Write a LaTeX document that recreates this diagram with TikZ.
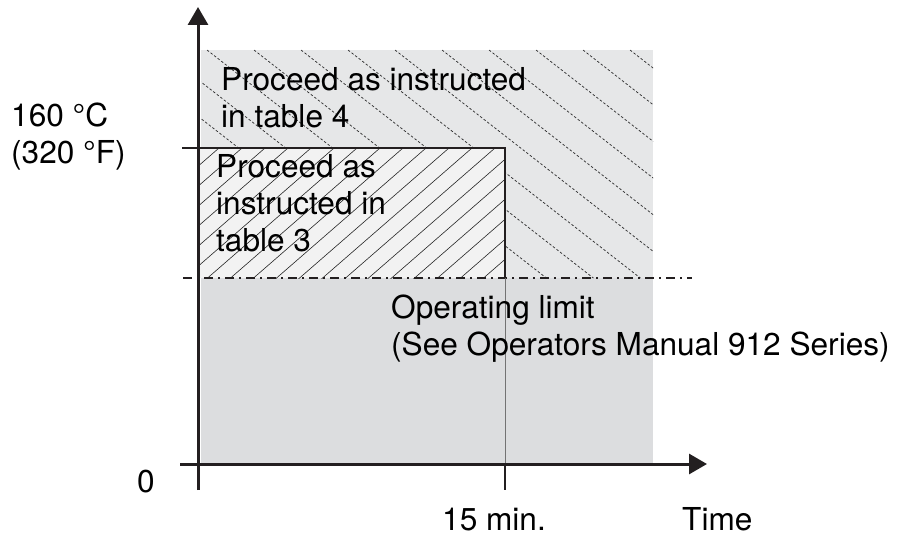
\documentclass[tikz,border=0pt]{standalone}
\usepackage{fontspec}
\setmainfont{TeX Gyre Heros}
\usetikzlibrary{arrows.meta}

\definecolor{axisblack}{HTML}{231F20}
\definecolor{zoneupper}{HTML}{E6E7E8}
\definecolor{zonelower}{HTML}{DCDDDF}
\definecolor{zoneinner}{HTML}{F2F2F2}

\tikzset{
  axis/.style={line width=3pt, draw=axisblack, -{Triangle[length=18pt,width=20pt]}},
  hatchdash/.style={line width=0.75pt, draw=black!80, dash pattern=on 2.5pt off 2pt},
  hatchsolid/.style={line width=0.6pt, draw=black!85},
  limitline/.style={line width=1.5pt, draw=axisblack, dash pattern=on 9pt off 5pt on 2pt off 5pt},
  zonetext/.style={inner sep=0pt, align=left, anchor=north west, font=\fontsize{31.6}{37}\selectfont},
  ticktext/.style={inner sep=0pt, anchor=base west, font=\fontsize{31.6}{37}\selectfont}
}

\begin{document}
\begin{tikzpicture}[x=1pt, y=-1pt]
		\useasboundingbox (0,0) rectangle (904,535);
		
		% Key points
		\coordinate (origin) at (198,464);
		\coordinate (ybot) at (198,490);
		\coordinate (ytop) at (198,7);
		\coordinate (xleft) at (180,464);
		\coordinate (xright) at (707,464);
		\coordinate (tlimit) at (505,278);
		\coordinate (tmark) at (505,464);
		\coordinate (tbot) at (505,490);
		\coordinate (tempmax) at (505,148);
		\coordinate (templeft) at (182,148);
		
		% Zones
		\fill[zoneupper] (201,50) rectangle (653,278);
		\fill[zonelower] (201,278) rectangle (653,464);
		\fill[zoneinner] (198,148) rectangle (tlimit);
		
		% Dashed hatching: table 4 zone
		\begin{scope}
			\clip (201,50) -- (653,50) -- (653,278) -- (tlimit) -- (tempmax) -- (201,148) -- cycle;
			\foreach \k in {-12,...,6} {
				\draw[hatchdash] ({395+47*\k},50) -- ++(400,312);
			}
		\end{scope}
		
		% Solid hatching: table 3 zone
		\begin{scope}
			\clip (198,148) rectangle (tlimit);
			\foreach \k in {-8,...,14} {
				\draw[hatchsolid] ({495-23*\k+30},{148-26.1}) -- ++(-230,200.1);
			}
		\end{scope}
		
		% Limits
		\draw[limitline] (183,278) -- (692,278);
		\draw[line width=1pt, draw=black!55] (tlimit) -- (tmark);
		\draw[line width=1.3pt, draw=axisblack] (templeft) -- (tempmax) -- (tlimit);
		\draw[line width=1.5pt, draw=axisblack] (tmark) -- (tbot);
		
		% Axes
		\draw[axis] (ybot) -- (ytop);
		\draw[axis] (xleft) -- (xright);
		
		% Zone labels
		\node[zonetext] (table4) at (221,67.5) {Proceed as instructed\\in table 4};
		\node[zonetext] (table3) at (216,154.5) {Proceed as\\instructed in\\table 3};
		\node[zonetext] (oplimit) at (391,295) {Operating limit\\(See Operators Manual 912 Series)};
		
		% Axis labels
		\node[zonetext] (tempval) at (11,103) {160 °C\\(320 °F)};
		\node[ticktext] (zero) at (137,492) {0};
		\node[ticktext] (fifteen) at (442,530) {15 min.};
		\node[ticktext] (time) at (682,530) {Time};
		
	\end{tikzpicture}
\end{document}
